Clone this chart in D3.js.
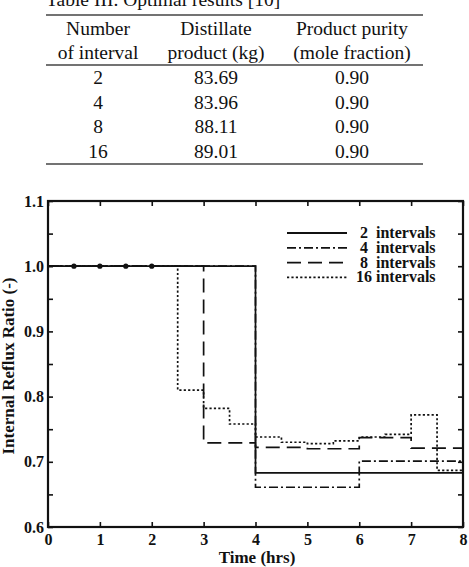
<!DOCTYPE html>
<html>
<head>
<meta charset="utf-8">
<script src="https://cdn.jsdelivr.net/npm/d3@7"></script>
<style>
  body { margin: 0; background: #fff; }
  svg { display: block; }
</style>
</head>
<body>
<div id="chart"></div>
<script>
// table data
const tableTitle = "Table III. Optimal results [10]";
const headerLine1 = ["Number", "Distillate", "Product purity"];
const headerLine2 = ["of interval", "product (kg)", "(mole fraction)"];
const intervalCounts = ["2", "4", "8", "16"];
const distillate = ["83.69", "83.96", "88.11", "89.01"];
const purity = ["0.90", "0.90", "0.90", "0.90"];

// chart data: reflux ratio held over each interval of the 8 h batch
const intervals2 = [1.0, 0.683];
const intervals4 = [1.0, 1.0, 0.661, 0.701];
const intervals8 = [1.0, 1.0, 1.0, 0.729, 0.722, 0.720, 0.737, 0.721];
const intervals16 = [1.0, 1.0, 1.0, 1.0, 1.0, 0.810, 0.782, 0.758,
                     0.738, 0.730, 0.728, 0.732, 0.738, 0.742, 0.772, 0.687];
const markerTimes = [0.5, 1, 1.5, 2];
const legendLabels = ["2", "4", "8", "16"];
const xTicks = [0, 1, 2, 3, 4, 5, 6, 7, 8];
const yTicks = [0.6, 0.65, 0.7, 0.75, 0.8, 0.85, 0.9, 0.95, 1.0, 1.05, 1.1];

const width = 469, height = 567;
const serif = "'Liberation Serif', 'Times New Roman', serif";

const svg = d3.select("#chart").append("svg")
    .attr("width", width)
    .attr("height", height);

// ---- table ----
const colX = [98, 216, 352];
const table = svg.append("g").style("font-family", serif).style("font-size", "19.5px").attr("fill", "#111");

table.append("text").attr("x", 46).attr("y", 6).text(tableTitle);

[15, 65, 164].forEach(function(y) {
    table.append("line")
        .attr("x1", 46).attr("x2", 423)
        .attr("y1", y).attr("y2", y)
        .attr("stroke", "#444").attr("stroke-width", 1.6);
});

table.selectAll(".h1").data(headerLine1).enter().append("text")
    .attr("x", (d, i) => colX[i]).attr("y", 35)
    .attr("text-anchor", "middle").text(d => d);
table.selectAll(".h2").data(headerLine2).enter().append("text")
    .attr("x", (d, i) => colX[i]).attr("y", 59)
    .attr("text-anchor", "middle").text(d => d);

const rows = intervalCounts.map((n, i) => [n, distillate[i], purity[i]]);
rows.forEach(function(row, r) {
    row.forEach(function(cell, c) {
        table.append("text")
            .attr("x", colX[c]).attr("y", 84.3 + r * 24.4)
            .attr("text-anchor", "middle").text(cell);
    });
});

// ---- chart ----
const plot = {left: 48, right: 463, top: 201, bottom: 527};

const x = d3.scaleLinear().domain([0, 8]).range([plot.left, plot.right]);
const y = d3.scaleLinear().domain([0.6, 1.1]).range([plot.bottom, plot.top]);

const g = svg.append("g").style("font-family", serif).style("font-weight", "bold");

// step series -> points (t, v) with closing point at t = 8
function steps(values) {
    const dt = 8 / values.length;
    const pts = values.map((v, i) => [i * dt, v]);
    pts.push([8, values[values.length - 1]]);
    return pts;
}

const line = d3.line()
    .curve(d3.curveStepAfter)
    .x(d => x(d[0]))
    .y(d => y(d[1]));

const series = [
    {values: intervals2, dash: null},
    {values: intervals4, dash: "9,3,2,3"},
    {values: intervals8, dash: "14,7"},
    {values: intervals16, dash: "2.2,2.2"}
];

// draw 16 first so the solid line sits on top
series.slice().reverse().forEach(function(s) {
    g.append("path")
        .attr("d", line(steps(s.values)))
        .attr("fill", "none")
        .attr("stroke", "#111")
        .attr("stroke-width", 1.7)
        .attr("stroke-dasharray", s.dash);
});

g.selectAll(".marker").data(markerTimes).enter().append("circle")
    .attr("cx", d => x(d)).attr("cy", y(1.0))
    .attr("r", 2.6).attr("fill", "#111");

// axes with inward ticks on all four sides
const tickLen = 5;
const xAxis = g.append("g")
    .attr("transform", "translate(0," + plot.bottom + ")")
    .call(d3.axisBottom(x).tickValues(xTicks).tickSizeInner(-tickLen).tickSizeOuter(0).tickPadding(7).tickFormat(d3.format("d")));
const xTop = g.append("g")
    .attr("transform", "translate(0," + plot.top + ")")
    .call(d3.axisTop(x).tickValues(xTicks).tickSizeInner(-tickLen).tickSizeOuter(0).tickFormat(""));
const yAxis = g.append("g")
    .attr("transform", "translate(" + plot.left + ",0)")
    .call(d3.axisLeft(y).tickValues(yTicks).tickSizeInner(-tickLen).tickSizeOuter(0).tickPadding(4)
        .tickFormat(d => Math.round(d * 100) % 10 === 0 ? d3.format(".1f")(d) : ""));
const yRight = g.append("g")
    .attr("transform", "translate(" + plot.right + ",0)")
    .call(d3.axisRight(y).tickValues(yTicks).tickSizeInner(-tickLen).tickSizeOuter(0).tickFormat(""));

[xAxis, xTop, yAxis, yRight].forEach(function(a) {
    a.select(".domain").remove();
    a.selectAll(".tick line").attr("stroke", "#111").attr("stroke-width", 1.6);
    a.selectAll(".tick text")
        .style("font-family", serif).style("font-size", "16px")
        .style("font-weight", "bold").attr("fill", "#111");
});

g.append("rect")
    .attr("x", plot.left).attr("y", plot.top)
    .attr("width", plot.right - plot.left).attr("height", plot.bottom - plot.top)
    .attr("fill", "none").attr("stroke", "#111").attr("stroke-width", 2.2);

// axis titles
g.append("text")
    .attr("x", 257).attr("y", 563)
    .attr("text-anchor", "middle")
    .style("font-size", "17px").attr("fill", "#111")
    .text("Time (hrs)");
g.append("text")
    .attr("transform", "translate(14,366) rotate(-90)")
    .attr("text-anchor", "middle")
    .style("font-size", "17px").attr("fill", "#111")
    .text("Internal Reflux Ratio (-)");

// legend
const legend = g.append("g");
series.forEach(function(s, i) {
    const ly = 233 + i * 14.8;
    legend.append("line")
        .attr("x1", 287).attr("x2", 347)
        .attr("y1", ly).attr("y2", ly)
        .attr("stroke", "#111").attr("stroke-width", 1.8)
        .attr("stroke-dasharray", s.dash);
    legend.append("text")
        .attr("x", 364).attr("y", ly + 5)
        .attr("text-anchor", "middle")
        .style("font-size", "16px").attr("fill", "#111")
        .text(legendLabels[i]);
    legend.append("text")
        .attr("x", 376).attr("y", ly + 5)
        .style("font-size", "16px").attr("fill", "#111")
        .text("intervals");
});
</script>
</body>
</html>
